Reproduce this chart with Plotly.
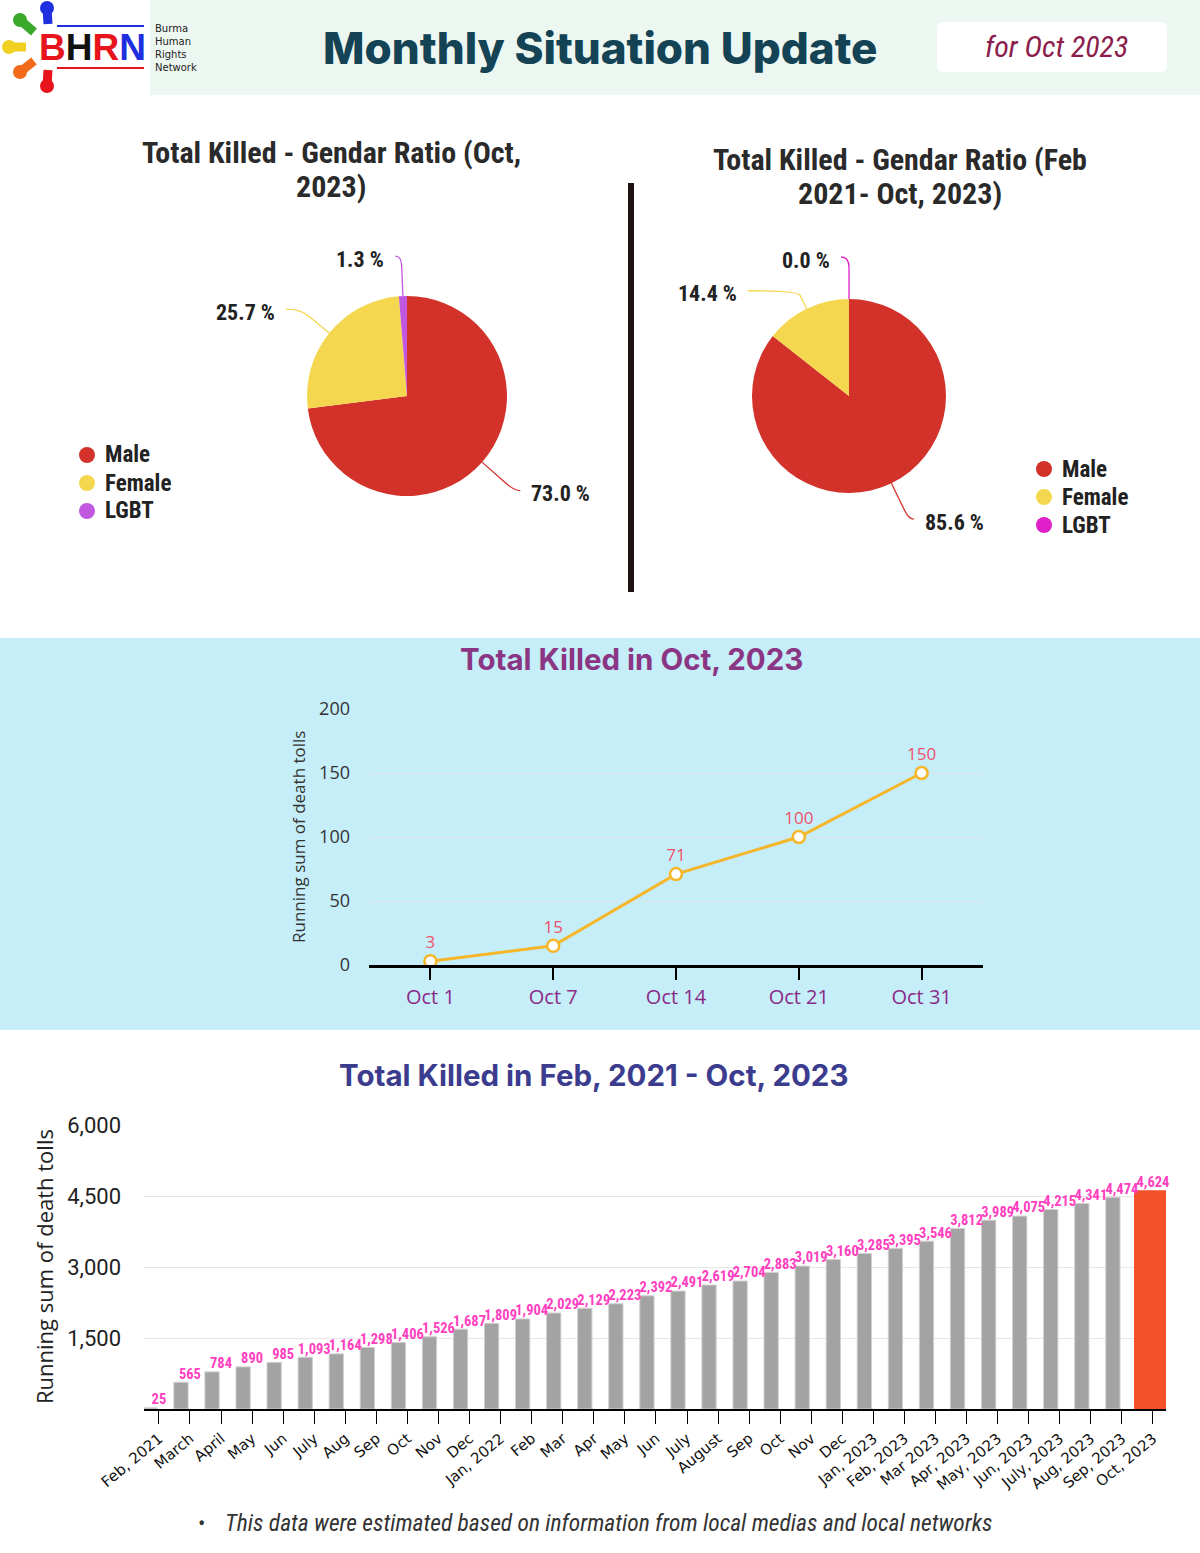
import math
import plotly.graph_objects as go

W, H = 1200, 1553


def px(x):
    return x / W


def py(y):
    return 1 - y / H


# ---- data ----
pie_labels = ["Male", "Female", "LGBT"]
pie_oct_2023 = [73.0, 25.7, 1.3]
pie_feb21_oct23 = [85.6, 14.4, 0.0]

oct_days = ["Oct 1", "Oct 7", "Oct 14", "Oct 21", "Oct 31"]
oct_running = [3, 15, 71, 100, 150]

months = ["Feb, 2021", "March", "April", "May", "Jun", "July", "Aug", "Sep", "Oct",
          "Nov", "Dec", "Jan, 2022", "Feb", "Mar", "Apr", "May", "Jun", "July",
          "August", "Sep", "Oct", "Nov", "Dec", "Jan, 2023", "Feb, 2023", "Mar 2023",
          "Apr, 2023", "May, 2023", "Jun, 2023", "July, 2023", "Aug, 2023",
          "Sep, 2023", "Oct, 2023"]
running_total = [25, 565, 784, 890, 985, 1093, 1164, 1298, 1406, 1526, 1687, 1809,
                 1904, 2029, 2129, 2223, 2392, 2491, 2619, 2704, 2883, 3019, 3160,
                 3285, 3395, 3546, 3812, 3989, 4075, 4215, 4341, 4474, 4624]

# ---- styling ----
COND = "Roboto Condensed, Liberation Sans Narrow, DejaVu Sans Condensed, Roboto"
ROUND = "Inter, Lato, Roboto"
left_colors = ["#d3322a", "#f4d74f", "#c158e0"]
right_colors = ["#d3322a", "#f4d74f", "#e021c9"]

fig = go.Figure()
shapes = []
annotations = []


def ann(x, y, text, font, xanchor="center", yanchor="middle", **kw):
    annotations.append(dict(x=px(x), y=py(y), xref="paper", yref="paper", showarrow=False,
                            text=text, font=font, xanchor=xanchor, yanchor=yanchor, **kw))


# background bands
shapes.append(dict(type="rect", xref="paper", yref="paper", x0=px(150), x1=px(1200),
                   y0=py(95), y1=py(0), fillcolor="#edf7f1", line_width=0, layer="below"))
shapes.append(dict(type="rect", xref="paper", yref="paper", x0=0, x1=1,
                   y0=py(1030), y1=py(638), fillcolor="#c5eef8", line_width=0, layer="below"))


def rounded_rect(x0, y0, x1, y1, r):
    a, b, c, d = px(x0), px(x1), py(y0), py(y1)
    rx, ry = r / W, r / H
    return (f"M {a+rx},{c} L {b-rx},{c} Q {b},{c} {b},{c-ry} L {b},{d+ry} Q {b},{d} {b-rx},{d} "
            f"L {a+rx},{d} Q {a},{d} {a},{d+ry} L {a},{c-ry} Q {a},{c} {a+rx},{c} Z")


shapes.append(dict(type="path", xref="paper", yref="paper", path=rounded_rect(937, 22, 1167, 72, 7),
                   fillcolor="white", line_width=0, layer="below"))

# divider between pies
shapes.append(dict(type="line", xref="paper", yref="paper", x0=px(631), x1=px(631),
                   y0=py(592), y1=py(183), line=dict(color="#1e1212", width=6)))

# logo
logo_people = [("#1f2fe0", (47, 8), (48, 24)), ("#3aa82a", (20, 20), (34, 32)),
               ("#f0d020", (9, 47), (26, 47)), ("#f26a1a", (20, 72), (34, 61)),
               ("#e8141c", (47, 86), (48, 70))]
for col, (hx, hy), (bx, by) in logo_people:
    shapes.append(dict(type="circle", xref="paper", yref="paper", x0=px(hx - 7), x1=px(hx + 7),
                       y0=py(hy + 7), y1=py(hy - 7), fillcolor=col, line_width=0))
    shapes.append(dict(type="line", xref="paper", yref="paper", x0=px(hx), x1=px(bx),
                       y0=py(hy), y1=py(by), line=dict(color=col, width=9)))
shapes.append(dict(type="line", xref="paper", yref="paper", x0=px(57), x1=px(144),
                   y0=py(26), y1=py(26), line=dict(color="#1f2fe0", width=2)))
shapes.append(dict(type="line", xref="paper", yref="paper", x0=px(57), x1=px(144),
                   y0=py(68), y1=py(68), line=dict(color="#e8141c", width=2)))
ann(92, 48, "<b><span style='color:#e8141c'>B</span><span style='color:#111'>H</span>"
            "<span style='color:#e8141c'>R</span><span style='color:#1f2fe0'>N</span></b>",
    dict(family="Liberation Sans, Arial", size=37))
ann(153, 48, "Burma<br>Human<br>Rights<br>Network",
    dict(family="DejaVu Sans", size=10, color="#222"), xanchor="left", align="left")

# header texts
ann(600, 48, "Monthly Situation Update", dict(family=ROUND, size=44, color="#134354", weight=800))
ann(1056, 47, "<i>for Oct 2023</i>", dict(family=COND, size=30, color="#8b1c4c"))


# ---- pies ----
def add_pie(values, colors, cx, cy, r, title_lines, tx, ty, tune, legend_xy):
    fig.add_trace(go.Pie(labels=pie_labels, values=values, sort=False, direction="clockwise",
                         rotation=0, marker=dict(colors=colors), textinfo="none",
                         showlegend=False, hoverinfo="label+percent",
                         domain=dict(x=[px(cx - r), px(cx + r)], y=[py(cy + r), py(cy - r)])))
    for k, line in enumerate(title_lines):
        ann(tx, ty + 35 * k, f"<b>{line}</b>", dict(family=COND, size=30, color="#2a2a2a"))
    total = sum(values)
    cum = 0
    for v, col, (ext, run) in zip(values, colors, tune):
        theta = 2 * math.pi * (cum + v / 2) / total
        cum += v
        dx, dy = math.sin(theta), -math.cos(theta)
        p0 = (cx + r * dx, cy + r * dy)
        p1 = (cx + (r + ext) * dx, cy + (r + ext) * dy)
        pa = (p0[0] + 0.75 * (p1[0] - p0[0]), p0[1] + 0.75 * (p1[1] - p0[1]))
        p2 = (p1[0] + run, p1[1])
        path = (f"M {px(p0[0])},{py(p0[1])} L {px(pa[0])},{py(pa[1])} "
                f"Q {px(p1[0])},{py(p1[1])} {px(p2[0])},{py(p2[1])}")
        shapes.append(dict(type="path", xref="paper", yref="paper", path=path,
                           line=dict(color=col, width=1.3)))
        side = 1 if run > 0 else -1
        ann(p2[0] + side * 9, p2[1] + 3, f"<b>{v:.1f} %</b>",
            dict(family=COND, size=22, color="#222"),
            xanchor="left" if side > 0 else "right")
    lx, ly = legend_xy
    for i, (lab, col) in enumerate(zip(pie_labels, colors)):
        yy = ly + 28 * i
        shapes.append(dict(type="circle", xref="paper", yref="paper", x0=px(lx - 8), x1=px(lx + 8),
                           y0=py(yy + 8), y1=py(yy - 8), fillcolor=col, line_width=0))
        ann(lx + 16, yy, f"<b>{lab}</b>", dict(family=COND, size=23, color="#222"), xanchor="left")


add_pie(pie_oct_2023, left_colors, 407, 396, 100,
        ["Total Killed - Gendar Ratio (Oct,", "2023)"], 331, 152,
        [(43, 6), (38, -14), (40, -6)], (87, 455))
add_pie(pie_feb21_oct23, right_colors, 849, 396, 97,
        ["Total Killed - Gendar Ratio (Feb", "2021- Oct, 2023)"], 900, 159,
        [(40, 5), (20, -50), (42, -8)], (1044, 469))

# ---- line chart: Oct 2023 ----
fig.add_trace(go.Scatter(x=oct_days, y=oct_running, mode="lines+markers+text",
                         text=[str(v) for v in oct_running], textposition="top center",
                         textfont=dict(family="Open Sans", size=17, color="#f0506a"),
                         line=dict(color="#f5b62a", width=3),
                         marker=dict(size=12, color="white", line=dict(color="#f5b62a", width=2.5)),
                         cliponaxis=False, showlegend=False, xaxis="x", yaxis="y"))
ann(631, 659, "<b>Total Killed in Oct, 2023</b>", dict(family=ROUND, size=29.5, color="#8b3684"))
ann(298, 837, "Running sum of death tolls", dict(family="Open Sans", size=17, color="#333"),
    textangle=-90)

# ---- bar chart: Feb 2021 - Oct 2023 ----
idx = list(range(len(months)))
fig.add_trace(go.Bar(x=idx[:-1], y=running_total[:-1], offset=-0.52, width=0.46,
                     marker=dict(color="#a3a3a3", line=dict(color="#d0d0d0", width=1)),
                     showlegend=False, xaxis="x2", yaxis="y2"))
fig.add_trace(go.Bar(x=idx[-1:], y=running_total[-1:], offset=-0.61, width=1.03,
                     marker=dict(color="#f4502a", line=dict(color="#f4502a", width=0)),
                     showlegend=False, xaxis="x2", yaxis="y2"))
fig.add_trace(go.Scatter(x=idx, y=running_total, mode="text",
                         text=[f"{v:,}" for v in running_total], textposition="top center",
                         textfont=dict(family=COND, size=14.5, color="#ff3fc0", weight="bold"),
                         cliponaxis=False, showlegend=False, xaxis="x2", yaxis="y2"))
ann(593, 1075, "<b>Total Killed in Feb, 2021 - Oct, 2023</b>",
    dict(family=ROUND, size=29.5, color="#3c3c8e"))
ann(44, 1267, "Running sum of death tolls", dict(family="Open Sans", size=22, color="#222"),
    textangle=-90)

# footnote
ann(201, 1523, "•", dict(family="Roboto", size=22, color="#333"))
ann(223, 1523, "<i>This data were estimated based on information from local medias and local networks</i>",
    dict(family=COND, size=23.5, color="#333"), xanchor="left")

fig.update_layout(
    width=W, height=H, margin=dict(l=0, r=0, t=0, b=0, autoexpand=False),
    paper_bgcolor="white", plot_bgcolor="rgba(0,0,0,0)",
    barmode="overlay", showlegend=False,
    shapes=shapes, annotations=annotations,
    xaxis=dict(domain=[px(369), px(983)], anchor="y", range=[-0.5, 4.5], showgrid=False,
               showline=True, linecolor="black", linewidth=3, ticks="outside", ticklen=12,
               tickwidth=2, tickcolor="black", automargin=False,
               tickfont=dict(family="Open Sans", size=20, color="#8a2a88")),
    yaxis=dict(domain=[py(965), py(709)], anchor="x", range=[0, 200],
               tickvals=[0, 50, 100, 150, 200], gridcolor="#dde6e9", zeroline=False,
               ticklabelstandoff=18, automargin=False,
               tickfont=dict(family="Open Sans", size=18, color="#333")),
    xaxis2=dict(domain=[px(144), px(1166)], anchor="y2", range=[-0.48, 32.42],
                tickvals=idx, ticktext=months, tickangle=-40, showgrid=False,
                showline=True, linecolor="black", linewidth=2, ticks="outside",
                ticklen=13, tickcolor="black", automargin=False,
                tickfont=dict(family="DejaVu Sans", size=15, color="#111")),
    yaxis2=dict(domain=[py(1409), py(1125)], anchor="x2", range=[0, 6000],
                tickvals=[1500, 3000, 4500, 6000], tickformat=",d", gridcolor="#e6e6e6",
                zeroline=False, ticklabelstandoff=22, automargin=False,
                tickfont=dict(family="Roboto", size=22, color="#222")),
)

fig.write_html("out.html", config={"displayModeBar": False},
               post_script="document.body.style.margin='0';")
